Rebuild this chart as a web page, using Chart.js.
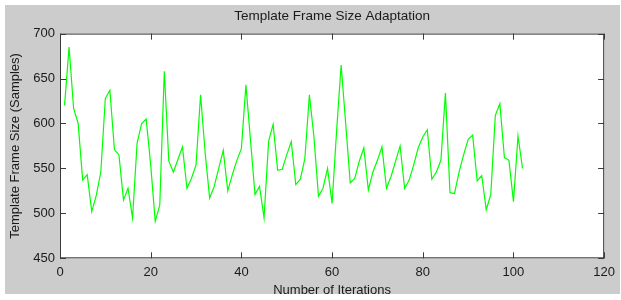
<!DOCTYPE html>
<html>
<head>
<meta charset="utf-8">
<script src="https://cdn.jsdelivr.net/npm/chart.js@4/dist/chart.umd.min.js"></script>
<style>
  html, body { margin: 0; padding: 0; background: #ffffff; }
  #wrap { width: 621px; height: 300px; position: relative; }
</style>
</head>
<body>
<div id="wrap"><canvas id="chart"></canvas></div>
<script>
// Template frame size per iteration
const frameSizes = [
    620, 685, 617, 600, 537, 543, 502, 520, 546, 628,
    637, 571, 565, 515, 528, 495, 578, 600, 605, 554,
    491, 509, 658, 558, 546, 560, 574, 528, 539, 554,
    632, 568, 517, 530, 550, 570, 525, 543, 559, 572,
    643, 582, 521, 530, 495, 580, 599, 548, 549, 565,
    580, 532, 538, 561, 632, 585, 519, 528, 550, 511,
    592, 665, 600, 534, 539, 558, 573, 526, 546, 559,
    574, 528, 541, 558, 575, 528, 537, 554, 573, 585,
    593, 538, 546, 559, 634, 523, 522, 546, 565, 582,
    587, 536, 542, 504, 521, 609, 622, 562, 559, 513,
    586, 550
];
// iteration numbers 1..N
const iterations = frameSizes.map((v, i) => i + 1);

const xTicks = [0, 20, 40, 60, 80, 100, 120];
const yTicks = [450, 500, 550, 600, 650, 700];

const FONT = "'Liberation Sans', Arial, sans-serif";
const TEXT = '#1a1a1a';
const AXIS = '#3a3a3a';

// gray figure background + white axes box, MATLAB style
const matlabFrame = {
    id: 'matlabFrame',
    beforeDraw(chart) {
        const c = chart.ctx;
        const a = chart.chartArea;
        c.save();
        c.fillStyle = '#ffffff';
        c.fillRect(0, 0, chart.width, chart.height);
        c.fillStyle = '#cccccc';
        c.fillRect(5, 5, chart.width - 6, chart.height - 11);
        c.fillStyle = '#ffffff';
        c.fillRect(a.left, a.top, a.right - a.left, a.bottom - a.top);
        c.restore();
    },
    afterDatasetsDraw(chart) {
        const c = chart.ctx;
        const a = chart.chartArea;
        const xs = chart.scales.x, ys = chart.scales.y;
        const len = 6;
        c.save();
        c.strokeStyle = AXIS;
        c.lineWidth = 1;
        c.strokeRect(a.left + 0.5, a.top + 0.5, a.right - a.left - 1, a.bottom - a.top - 1);
        c.beginPath();
        xTicks.forEach(v => {
            const px = Math.round(xs.getPixelForValue(v)) + 0.5;
            c.moveTo(px, a.bottom); c.lineTo(px, a.bottom - len);
            c.moveTo(px, a.top); c.lineTo(px, a.top + len);
        });
        yTicks.forEach(v => {
            const py = Math.round(ys.getPixelForValue(v)) + 0.5;
            c.moveTo(a.left, py); c.lineTo(a.left + len, py);
            c.moveTo(a.right, py); c.lineTo(a.right - len, py);
        });
        c.stroke();
        c.restore();
    }
};

new Chart(document.getElementById('chart'), {
    type: 'line',
    data: {
        datasets: [{
            label: 'Frame size',
            data: iterations.map((it, i) => ({ x: it, y: frameSizes[i] })),
            borderColor: '#00ff00',
            borderWidth: 1.2,
            pointRadius: 0,
            tension: 0,
            fill: false
        }]
    },
    options: {
        responsive: true,
        maintainAspectRatio: false,
        animation: false,
        layout: { padding: { left: 0, right: 14, top: 0, bottom: 0 } },
        plugins: {
            legend: { display: false },
            tooltip: { enabled: false },
            title: {
                display: true,
                fullSize: false,
                text: 'Template Frame Size Adaptation',
                color: TEXT,
                font: { family: FONT, size: 13.5, weight: 'normal' },
                padding: { top: 8, bottom: 9.4 }
            }
        },
        scales: {
            x: {
                type: 'linear',
                min: 0,
                max: 120,
                afterBuildTicks(scale) { scale.ticks = xTicks.map(v => ({ value: v })); },
                afterFit(scale) { scale.height = 41.7; },
                grid: { display: false, drawTicks: false },
                border: { display: false },
                ticks: {
                    color: TEXT,
                    padding: 6,
                    maxRotation: 0,
                    font: { family: FONT, size: 13 }
                },
                title: {
                    display: true,
                    text: 'Number of Iterations',
                    color: TEXT,
                    font: { family: FONT, size: 13 },
                    padding: { top: 0, bottom: 2 }
                }
            },
            y: {
                type: 'linear',
                min: 450,
                max: 700,
                afterBuildTicks(scale) { scale.ticks = yTicks.map(v => ({ value: v })); },
                afterFit(scale) { scale.width = 60; },
                grid: { display: false, drawTicks: false },
                border: { display: false },
                ticks: {
                    color: TEXT,
                    padding: 5,
                    font: { family: FONT, size: 13 }
                },
                title: {
                    display: true,
                    text: 'Template Frame Size (Samples)',
                    color: TEXT,
                    font: { family: FONT, size: 13 },
                    padding: { top: 8, bottom: 0 }
                }
            }
        }
    },
    plugins: [matlabFrame]
});
</script>
</body>
</html>
